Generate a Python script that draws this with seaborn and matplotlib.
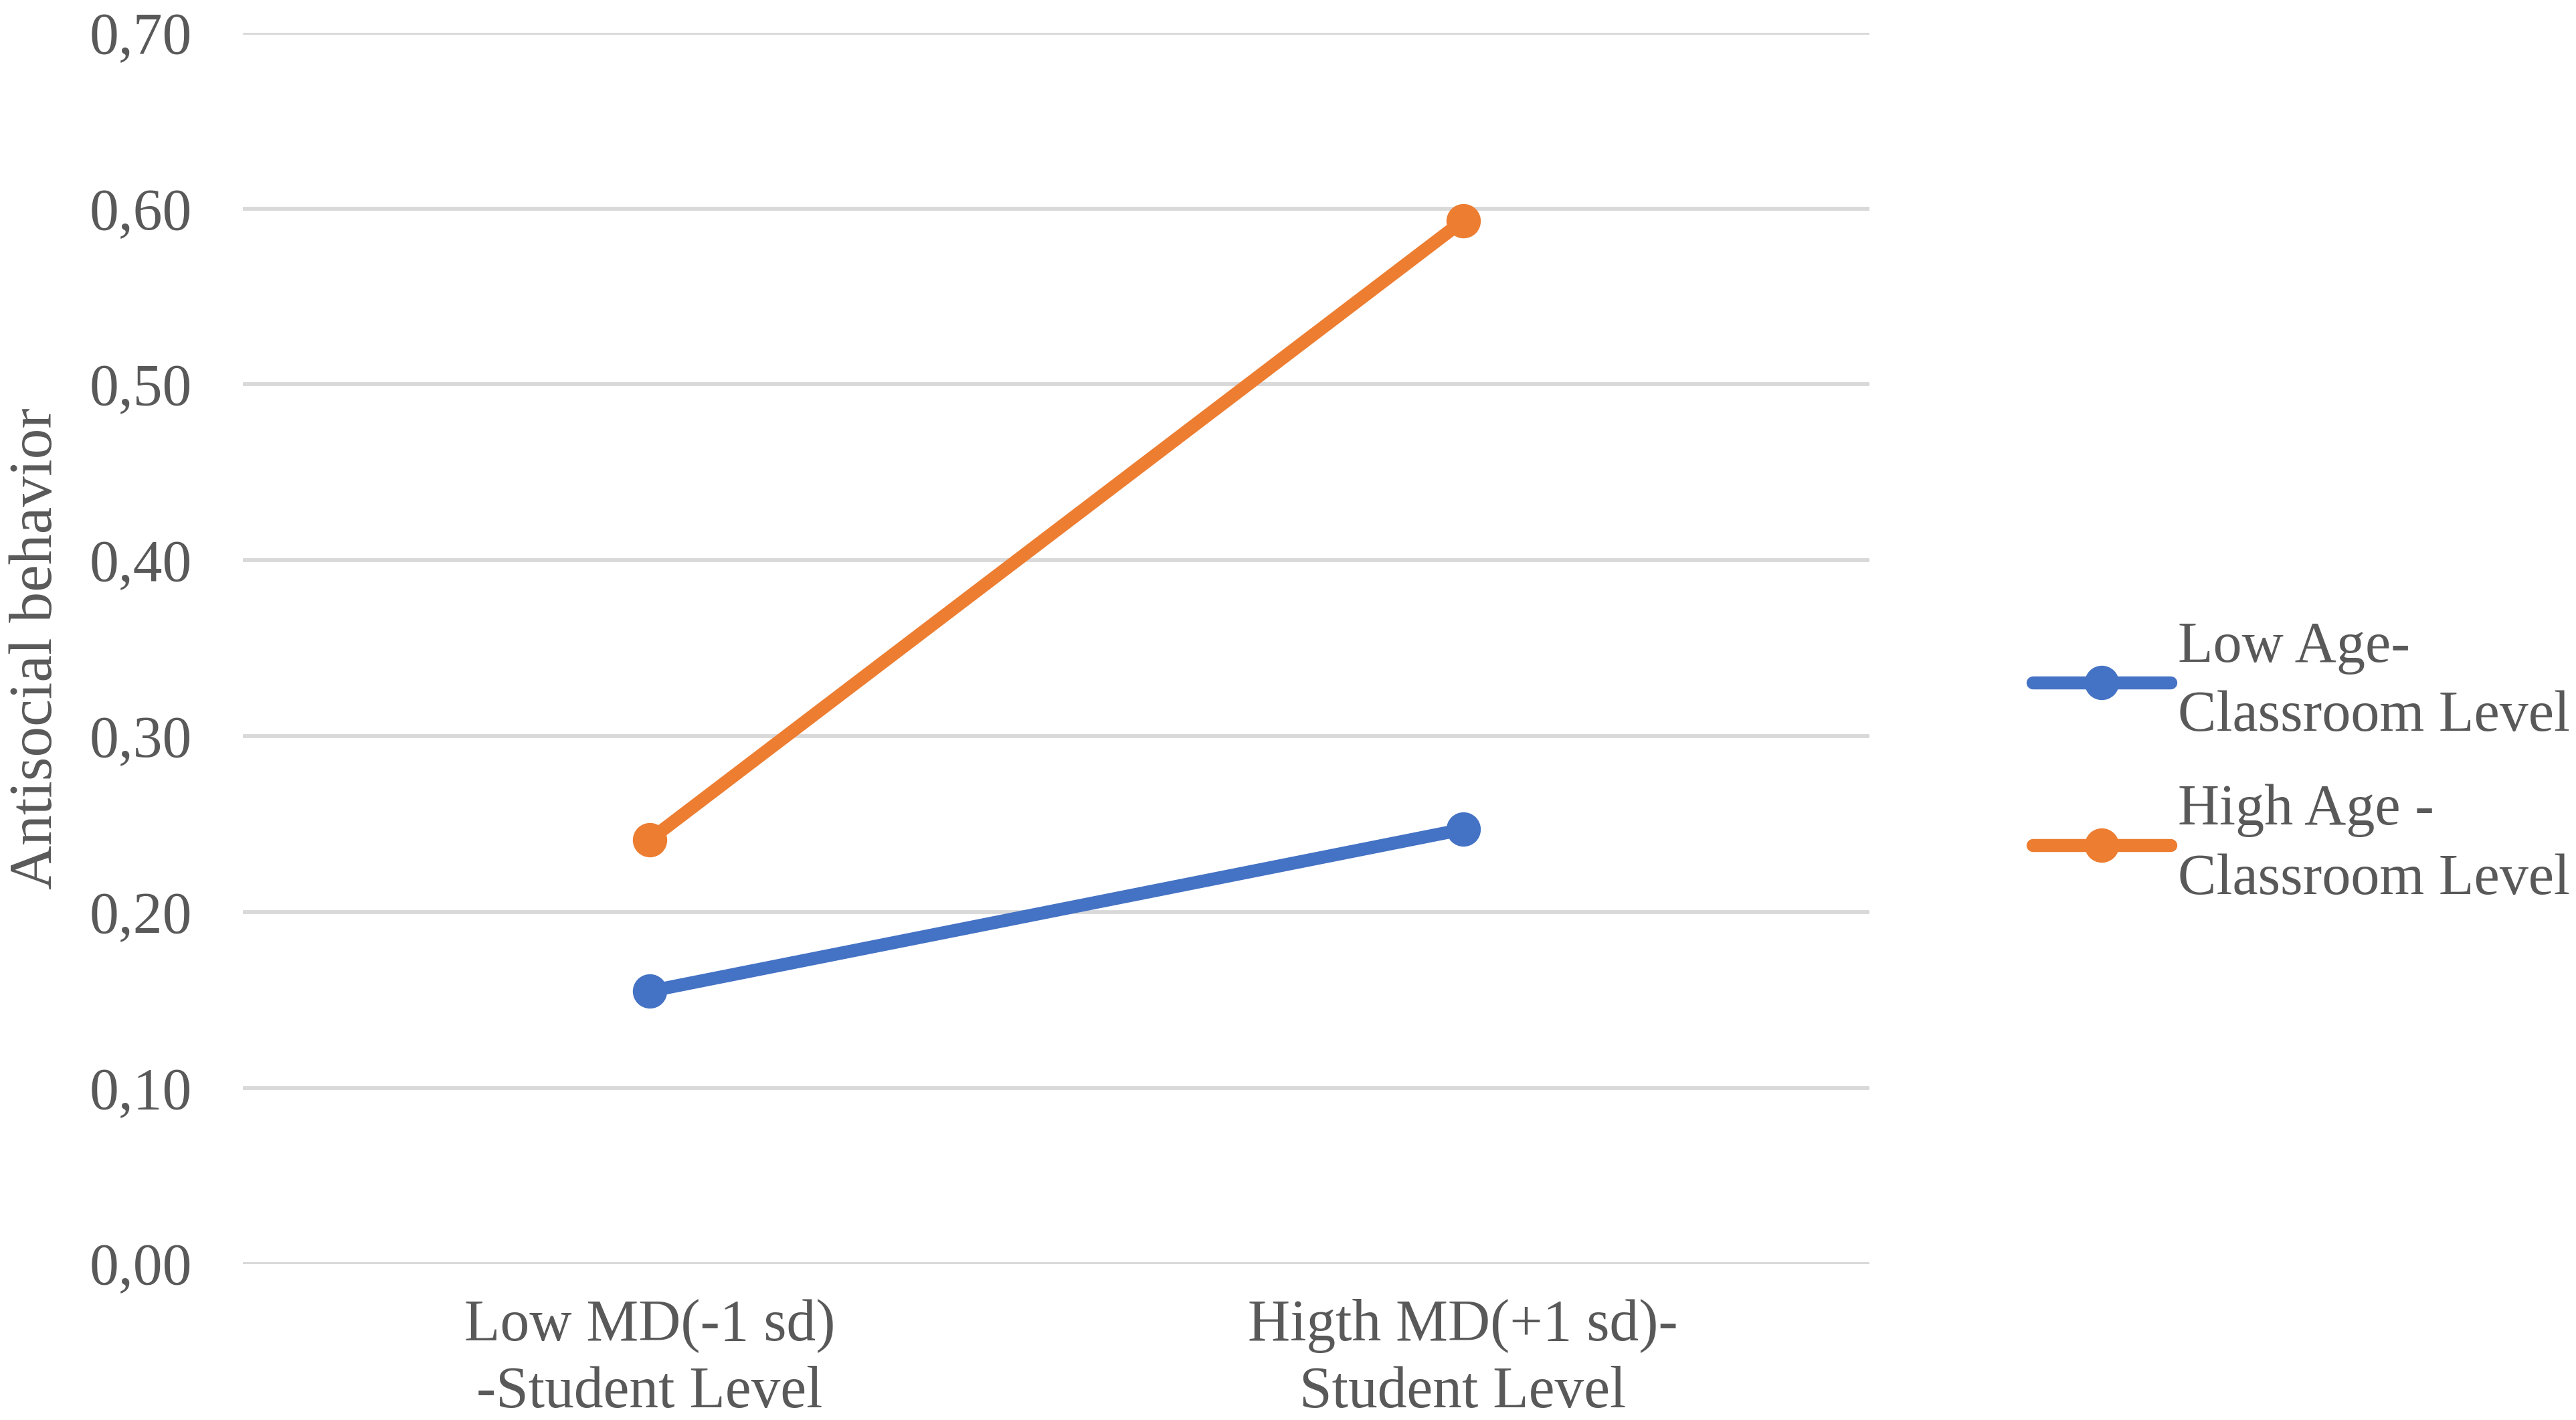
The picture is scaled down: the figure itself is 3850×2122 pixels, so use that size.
import pandas as pd
import matplotlib.pyplot as plt
import seaborn as sns
from matplotlib.ticker import FuncFormatter, MultipleLocator

categories = ['Low MD(-1 sd)\n-Student Level', 'Higth MD(+1 sd)-\nStudent Level']
series_names = ['Low Age-\nClassroom Level', 'High Age -\nClassroom Level']
low_age = [0.155, 0.247]
high_age = [0.241, 0.593]
colors = ['#4472C4', '#ED7D31']

df = pd.DataFrame({
    'md': categories * 2,
    'value': low_age + high_age,
    'group': [series_names[0]] * 2 + [series_names[1]] * 2,
})

sns.set_style('white')
plt.rcParams['font.family'] = ['Liberation Serif', 'DejaVu Serif']
text_col = '#595959'

fig = plt.figure(figsize=(38.5, 21.22), dpi=100)
ax = fig.add_axes([0.0943, 0.110, 0.6315, 0.867])

sns.lineplot(data=df, x='md', y='value', hue='group', palette=colors,
             marker='o', markersize=37, linewidth=14, markeredgewidth=0,
             dashes=False, ax=ax)
for ln in ax.get_lines():
    ln.set_solid_capstyle('round')

ax.set_xlim(-0.5, 1.5)
ax.set_ylim(0, 0.70)
ax.yaxis.set_major_locator(MultipleLocator(0.1))
ax.yaxis.set_major_formatter(FuncFormatter(lambda v, p: f'{v:.2f}'.replace('.', ',')))
ax.grid(axis='y', color='#D9D9D9', linewidth=4.2)
ax.set_axisbelow(True)
for s in ax.spines.values():
    s.set_visible(False)
ax.tick_params(axis='both', length=0, labelsize=63, colors=text_col)
ax.tick_params(axis='y', pad=55)
ax.tick_params(axis='x', pad=38)
for lbl in ax.get_xticklabels():
    lbl.set_linespacing(1.3)

ax.set_xlabel('')
ax.set_ylabel('Antisocial behavior', fontsize=66, color=text_col)
ax.yaxis.set_label_coords(-0.110, 0.5)

leg = ax.legend(loc='center left', bbox_to_anchor=(0.789, 0.462),
                bbox_transform=fig.transFigure, frameon=False, fontsize=62,
                handlelength=2.4, handletextpad=0.12, labelspacing=0.7,
                borderpad=0, borderaxespad=0)
for t in leg.get_texts():
    t.set_color(text_col)
    t.set_linespacing(1.4)
for h in leg.legend_handles:
    h.set_solid_capstyle('round')

fig.savefig('out.png', dpi=100, facecolor='white')
